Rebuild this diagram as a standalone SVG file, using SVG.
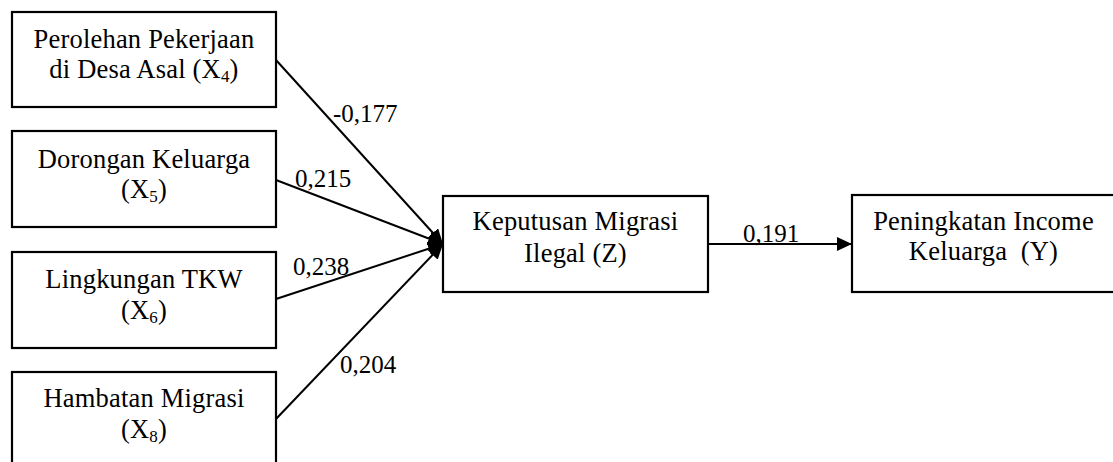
<svg xmlns="http://www.w3.org/2000/svg" width="1113" height="462" viewBox="0 0 1113 462">
<style>
.box{fill:#fff;stroke:#000;stroke-width:2.2}
.t{font-family:"Liberation Serif","Times New Roman",serif;font-size:26.5px;letter-spacing:0.2px;fill:#000;text-anchor:middle}
.lbl{font-family:"Liberation Serif","Times New Roman",serif;font-size:25px;fill:#000}
.sub{font-size:17px}
.c{stroke:#000;stroke-width:2;fill:none;marker-end:url(#ah)}
</style>
<defs>
<marker id="ah" markerUnits="userSpaceOnUse" markerWidth="16" markerHeight="14" refX="15" refY="7" orient="auto">
<path d="M0,0 L15,7 L0,14 Z" fill="#000"/>
</marker>
</defs>
<rect width="1113" height="462" fill="#fff"/>
<g id="connectors">
<line class="c" x1="276" y1="60" x2="443" y2="244"/>
<line class="c" x1="276" y1="180" x2="443" y2="244"/>
<line class="c" x1="276" y1="299" x2="443" y2="244"/>
<line class="c" x1="276" y1="419" x2="443" y2="244"/>
<line class="c" x1="708" y1="244" x2="852" y2="244"/>
<text class="lbl" x="333" y="122">-0,177</text>
<text class="lbl" x="295" y="187">0,215</text>
<text class="lbl" x="293" y="275">0,238</text>
<text class="lbl" x="340" y="373">0,204</text>
<text class="lbl" x="743" y="242">0,191</text>
</g>
<g id="x4">
<rect class="box" x="12" y="12" width="264" height="95"/>
<text class="t" x="144" y="48">Perolehan Pekerjaan</text>
<text class="t" x="144" y="78">di Desa Asal (X<tspan class="sub" dy="4">4</tspan><tspan dy="-4">)</tspan></text>
</g>
<g id="x5">
<rect class="box" x="12" y="131" width="264" height="96"/>
<text class="t" x="144" y="168">Dorongan Keluarga</text>
<text class="t" x="144" y="198">(X<tspan class="sub" dy="4">5</tspan><tspan dy="-4">)</tspan></text>
</g>
<g id="x6">
<rect class="box" x="12" y="252" width="264" height="96"/>
<text class="t" x="144" y="288">Lingkungan TKW</text>
<text class="t" x="144" y="319">(X<tspan class="sub" dy="4">6</tspan><tspan dy="-4">)</tspan></text>
</g>
<g id="x8">
<rect class="box" x="12" y="372" width="264" height="100"/>
<text class="t" x="144" y="407">Hambatan Migrasi</text>
<text class="t" x="144" y="438">(X<tspan class="sub" dy="4">8</tspan><tspan dy="-4">)</tspan></text>
</g>
<g id="z">
<rect class="box" x="443" y="196" width="265" height="96"/>
<text class="t" x="575.5" y="230">Keputusan Migrasi</text>
<text class="t" x="575.5" y="262">Ilegal (Z)</text>
</g>
<g id="y">
<rect class="box" x="852" y="195" width="270" height="97"/>
<text class="t" x="983.5" y="230">Peningkatan Income</text>
<text class="t" x="983.5" y="260" xml:space="preserve">Keluarga  (Y)</text>
</g>
</svg>
